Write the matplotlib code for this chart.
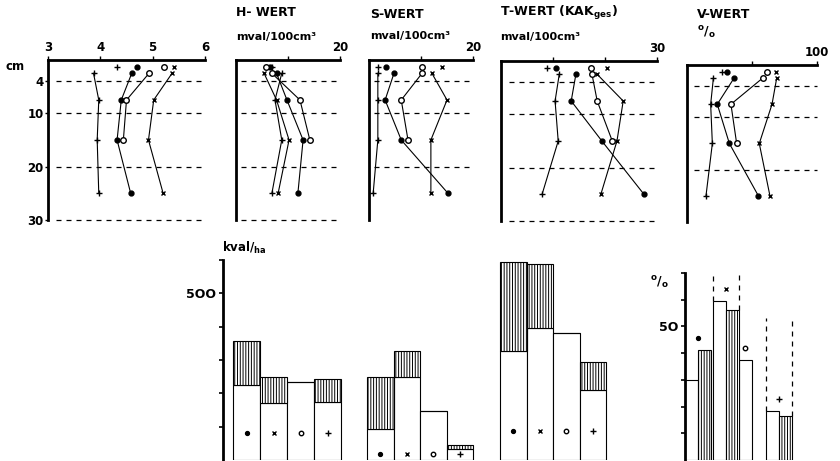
import numpy as np
import matplotlib
matplotlib.use('Agg')
import matplotlib.pyplot as plt
from matplotlib.transforms import blended_transform_factory

plt.rcParams['font.family'] = ['DejaVu Sans']
plt.rcParams['font.weight'] = 'bold'
plt.rcParams['mathtext.fontset'] = 'custom'
plt.rcParams['mathtext.rm'] = 'DejaVu Sans:bold'
plt.rcParams['hatch.linewidth'] = 0.7

# depth of the loose top point and of the connected profile points (cm)
depth_top = 1.3
depth_prof = [2.5, 7.5, 15, 25]

# order of every list of 4: dot, cross, ring, plus
ph_top = [4.70, 5.40, 5.22, 4.32]
ph_dot = [4.60, 4.40, 4.32, 4.58]
ph_x = [5.37, 5.02, 4.92, 5.20]
ph_o = [4.93, 4.50, 4.44]
ph_plus = [3.87, 3.97, 3.94, 3.97]

h_top = [6.5, 6.2, 5.8, 7.0]
h_dot = [7.8, 9.8, 12.9, 11.9]
h_x = [5.4, 7.8, 10.2, 8.1]
h_o = [6.9, 12.3, 14.2]
h_plus = [8.8, 7.5, 8.8, 6.9]

s_top = [3.3, 14.0, 10.2, 1.7]
s_dot = [4.8, 3.1, 6.2, 15.2]
s_x = [12.1, 15.0, 11.9, 11.9]
s_o = [10.2, 6.2, 7.5]
s_plus = [1.7, 1.7, 1.7, 0.8]

t_top = [10.6, 20.4, 17.3, 8.8]
t_dot = [14.4, 13.5, 19.4, 27.5]
t_x = [18.5, 23.5, 22.3, 19.2]
t_o = [17.5, 18.5, 21.4]
t_plus = [11.2, 10.4, 11.0, 7.9]

v_top = [31.0, 68.5, 61.8, 26.7]
v_dot = [36.2, 23.3, 32.6, 54.9]
v_x = [69.0, 65.4, 55.6, 63.8]
v_o = [58.2, 33.8, 38.2]
v_plus = [20.3, 18.2, 19.5, 14.6]

# kval/ha bars: white part and total height (white + hatched)
h_kval_white = [225, 170, 234, 174]
h_kval_total = [357, 249, 234, 243]
s_kval_white = [93, 249, 147, 33]
s_kval_total = [249, 327, 147, 45]
t_kval_white = [327, 395, 380, 210]
t_kval_total = [593, 587, 380, 293]

# percent bars
v_pct_white = [30, 59.6, 37.5, 18.4]
v_pct_hatch = [41, 56, np.nan, 16.5]
v_dash_top = [np.nan, 70, np.nan, 53]

styles = [
    dict(marker='o', ms=3.5, mfc='k', mec='k'),
    dict(marker='x', ms=3.5, mew=1, mec='k'),
    dict(marker='o', ms=4, mfc='white', mec='k', mew=1),
    dict(marker='+', ms=5, mew=1, mec='k'),
]

W, H = 840, 461
fig = plt.figure(figsize=(W / 100, H / 100), dpi=100)


def px_axes(x0, y0, x1, y1):
    ax = fig.add_axes([x0 / W, 1 - y1 / H, (x1 - x0) / W, (y1 - y0) / H])
    ax.patch.set_alpha(0)
    return ax


def ftext(x, y, s, size=8.5, **kw):
    fig.text(x / W, 1 - y / H, s, fontsize=size, ha=kw.pop('ha', 'left'),
             va=kw.pop('va', 'center'), **kw)


def profile_panel(rect, xlim, ticks, labels, top, dot, cross, ring, plus, dash_depths):
    ax = px_axes(*rect)
    ax.set_xlim(xlim)
    ax.set_ylim(30, 0)
    ax.spines['right'].set_visible(False)
    ax.spines['bottom'].set_visible(False)
    ax.spines['top'].set_linewidth(2)
    ax.spines['left'].set_linewidth(2)
    ax.xaxis.tick_top()
    ax.set_xticks(ticks, labels)
    ax.tick_params(axis='x', direction='out', length=3, width=1, pad=1, labelsize=8.5)
    ax.set_yticks([])
    for d in dash_depths:
        ax.axhline(d, xmin=0.05, xmax=1, color='k', lw=0.9, dashes=(4, 4), clip_on=False)
    # loose point at the top of each profile
    for val, st in zip(top, styles):
        ax.plot(val, depth_top, ls='none', clip_on=False, **st)
    for vals, st in zip([dot, cross, ring, plus], styles):
        ax.plot(vals, depth_prof[:len(vals)], color='k', lw=0.8, clip_on=False, **st)
    return ax


# top row: depth profiles
ax1 = profile_panel((48, 60, 205, 220), (3, 6), [3, 4, 5, 6], ['3', '4', '5', '6'],
                    ph_top, ph_dot, ph_x, ph_o, ph_plus, [4, 10, 20, 30])
ax1.set_yticks([4, 10, 20, 30], ['4', '10', '20', '30'])
ax1.tick_params(axis='y', direction='out', length=2, width=1, pad=1, labelsize=8.5)
ftext(15, 67, 'cm', ha='center')

profile_panel((236, 60, 340, 220), (0, 20), [10, 20], ['', '20'],
              h_top, h_dot, h_x, h_o, h_plus, [4, 10, 20, 30])
profile_panel((369, 60, 473, 220), (0, 20), [10, 20], ['', '20'],
              s_top, s_dot, s_x, s_o, s_plus, [4, 10, 20])
profile_panel((501, 61, 657, 221), (0, 30), [10, 20, 30], ['', '', '30'],
              t_top, t_dot, t_x, t_o, t_plus, [4, 10, 20, 30])
profile_panel((687, 65, 817, 222), (0, 100), [50, 100], ['', '100'],
              v_top, v_dot, v_x, v_o, v_plus, [4, 10, 20])

ftext(236, 13, 'H- WERT', size=9)
ftext(236, 37, 'mval/100cm³', size=8)
ftext(370, 15, 'S-WERT', size=9)
ftext(370, 36, 'mval/100cm³', size=8)
ftext(500, 13, r'T-WERT (KAK$_{\rm ges}$)', size=9)
ftext(500, 37, 'mval/100cm³', size=8)
ftext(697, 15, 'V-WERT', size=9)
ftext(697, 33, r'$^{\rm o}/_{\rm o}$', size=9)


def kval_panel(first_left, bar_px, white, total, marker_frac, show_axis):
    x0 = first_left - 10
    ax = px_axes(x0, 260, x0 + 10 + 4.5 * bar_px, 460)
    x = np.arange(4)
    hatched = np.array(total) - np.array(white)
    ax.bar(x, white, width=1, color='white', edgecolor='k', lw=0.8)
    ax.bar(x, hatched, bottom=white, width=1, color='white', edgecolor='k', lw=0.8,
           hatch='||||||')
    ax.set_xlim(-0.5 - 10 / bar_px, 4.0)
    ax.set_ylim(0, 600)
    for s in ['top', 'right', 'bottom']:
        ax.spines[s].set_visible(False)
    ax.set_xticks([])
    if show_axis:
        ax.spines['left'].set_linewidth(2)
        ax.set_yticks([100, 200, 300, 400, 500, 600], ['', '', '', '', '5OO', ''])
        ax.tick_params(axis='y', direction='out', length=3, width=1.2, pad=2, labelsize=9)
    else:
        ax.spines['left'].set_visible(False)
        ax.set_yticks([])
    tr = blended_transform_factory(ax.transData, ax.transAxes)
    for xi, st in zip(x, styles):
        st = dict(st, ms=st['ms'] * 0.8)
        ax.plot(xi, marker_frac, transform=tr, ls='none', **st)
    return ax


# bottom row: stocks per hectare
kval_panel(233, 27, h_kval_white, h_kval_total, 0.135, True)
kval_panel(367, 26.5, s_kval_white, s_kval_total, 0.03, False)
kval_panel(500, 26.5, t_kval_white, t_kval_total, 0.145, False)
ftext(222, 248, r'kval/$_{\rm ha}$', size=8.5)

# bottom right: percent bars
axp = px_axes(685, 273, 800, 460)
unit = 13.0
white_left = np.array([0, 2.15, 4.15, 6.23])
hatch_left = white_left + 1
axp.bar(white_left, v_pct_white, width=1, align='edge', color='white', edgecolor='k', lw=0.8)
ok = ~np.isnan(v_pct_hatch)
axp.bar(hatch_left[ok], np.array(v_pct_hatch)[ok], width=1, align='edge', color='white',
        edgecolor='k', lw=0.8, hatch='||||||')
for i in range(4):
    if not np.isnan(v_dash_top[i]):
        axp.plot([white_left[i]] * 2, [v_pct_white[i], v_dash_top[i]], color='k', lw=0.9,
                 dashes=(4, 4))
        axp.plot([hatch_left[i] + 1] * 2, [v_pct_hatch[i], v_dash_top[i]], color='k', lw=0.9,
                 dashes=(4, 4))
mark_x = [1.0, 3.15, 4.65, 7.23]
for i, st in enumerate(styles):
    top_val = np.nanmax([v_pct_white[i], v_pct_hatch[i]])
    axp.plot(mark_x[i], top_val + 4.5, ls='none', **dict(st, ms=st['ms'] * 0.8))
axp.set_xlim(0, 115 / unit)
axp.set_ylim(0, 70)
for s in ['top', 'right', 'bottom']:
    axp.spines[s].set_visible(False)
axp.spines['left'].set_linewidth(2)
axp.set_xticks([])
axp.set_yticks([10, 20, 30, 40, 50, 60, 70], ['', '', '', '', '5O', '', ''])
axp.tick_params(axis='y', direction='out', length=3, width=1.2, pad=2, labelsize=9)
ftext(650, 283, r'$^{\rm o}/_{\rm o}$', size=9)

fig.savefig('out.png', dpi=100)
